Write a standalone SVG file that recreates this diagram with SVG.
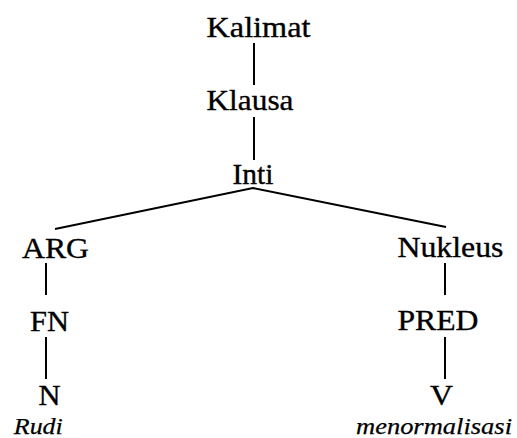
<svg xmlns="http://www.w3.org/2000/svg" width="517" height="438" viewBox="0 0 517 438">
<style>
.n{font-family:"Liberation Serif","Times New Roman",Times,serif;font-size:30px;fill:#000;stroke:#000;stroke-width:0.35;text-anchor:middle}
.w{font-family:"Liberation Serif","Times New Roman",Times,serif;font-size:24px;font-style:italic;fill:#000;stroke:#000;stroke-width:0.25;text-anchor:middle}
.c{stroke:#000;stroke-width:2;fill:none}
</style>
<rect width="517" height="438" fill="#fff"/>
<g id="connectors">
<line class="c" x1="254" y1="43" x2="254" y2="85"/>
<line class="c" x1="254" y1="117" x2="254" y2="160"/>
<polyline class="c" points="55,229 253,188 446,227"/>
<line class="c" x1="46" y1="263" x2="46" y2="295"/>
<line class="c" x1="46" y1="337" x2="46" y2="379"/>
<line class="c" x1="445" y1="263" x2="445" y2="295"/>
<line class="c" x1="445" y1="337" x2="445" y2="379"/>
</g>
<g id="kalimat"><text class="n" x="258.5" y="37" textLength="104" lengthAdjust="spacingAndGlyphs">Kalimat</text></g>
<g id="klausa"><text class="n" x="250" y="110" textLength="87" lengthAdjust="spacingAndGlyphs">Klausa</text></g>
<g id="inti"><text class="n" x="253" y="184" textLength="41" lengthAdjust="spacingAndGlyphs">Inti</text></g>
<g id="arg"><text class="n" x="55.5" y="257.5" textLength="67" lengthAdjust="spacingAndGlyphs">ARG</text></g>
<g id="nukleus"><text class="n" x="450.5" y="257" textLength="106" lengthAdjust="spacingAndGlyphs">Nukleus</text></g>
<g id="fn"><text class="n" x="49.5" y="330.5" textLength="39" lengthAdjust="spacingAndGlyphs">FN</text></g>
<g id="pred"><text class="n" x="438" y="330" textLength="81" lengthAdjust="spacingAndGlyphs">PRED</text></g>
<g id="n"><text class="n" x="49.5" y="405" textLength="22" lengthAdjust="spacingAndGlyphs">N</text><text class="w" x="38.3" y="434" textLength="49" lengthAdjust="spacingAndGlyphs">Rudi</text></g>
<g id="v"><text class="n" x="441.5" y="405" textLength="23" lengthAdjust="spacingAndGlyphs">V</text><text class="w" x="434" y="434" textLength="156" lengthAdjust="spacingAndGlyphs">menormalisasi</text></g>
</svg>
